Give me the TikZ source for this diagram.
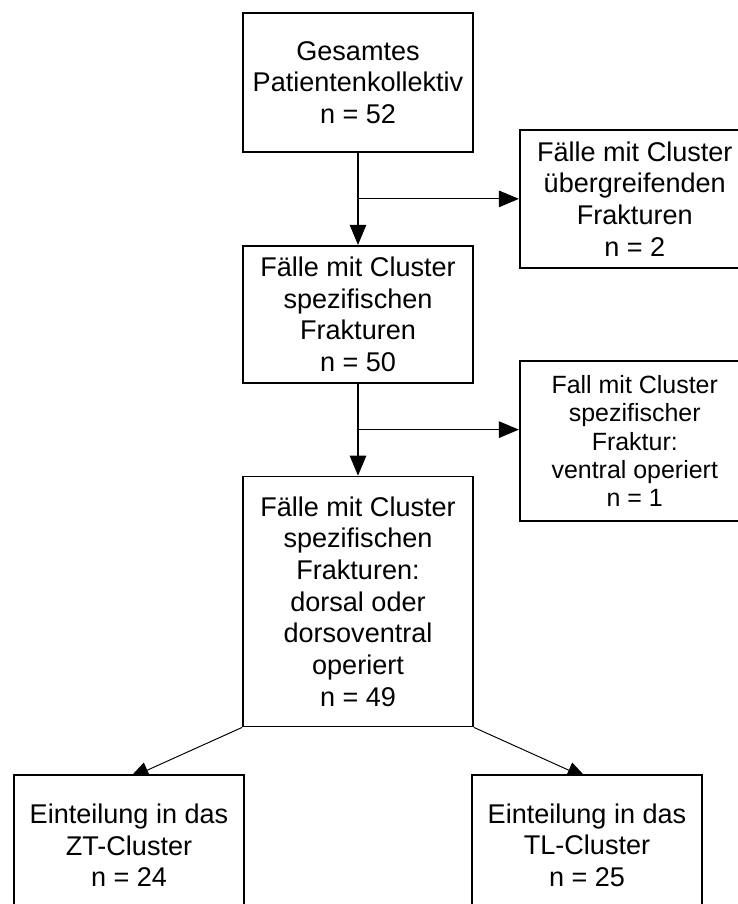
\documentclass[tikz,border=0pt]{standalone}
\usepackage{fontspec}
\setmainfont{Liberation Sans}
\usetikzlibrary{arrows.meta, positioning, backgrounds, calc}

\begin{document}
\begin{tikzpicture}[
            flowbox/.style={ rectangle, draw, line width=1pt, fill=white, minimum width=4.6cm, align=center, inner sep=0pt, font=\fontsize{15.4}{18}\selectfont },
            arrow/.style={ -{Triangle[length=0.4cm, width=0.33cm]}, line width=0.7pt }
        ]
            \useasboundingbox (0,0) rectangle (14.74,-18.08);

            % Main column
            \node (gesamt) [flowbox, minimum height=2.78cm] at (7.16,-1.65) {Gesamtes\\Patientenkollektiv\\n = 52};
            \node (spezifisch) [flowbox, minimum height=2.74cm, below=1.84cm of gesamt] {Fälle mit Cluster\\spezifischen\\Frakturen\\n = 50};
            \node (dorsal) [flowbox, minimum height=5cm, below=1.84cm of spezifisch] {Fälle mit Cluster\\spezifischen\\Frakturen:\\dorsal oder\\dorsoventral\\operiert\\n = 49};

            % Branch points
            \coordinate (split1) at ($(gesamt.south)!0.5!(spezifisch.north)$);
            \coordinate (split2) at ($(spezifisch.south)!0.5!(dorsal.north)$);
            \coordinate (split1east) at (gesamt.east |- split1);
            \coordinate (split2east) at (spezifisch.east |- split2);

            % Side nodes
            \node (uebergreifend) [flowbox, minimum height=2.76cm, right=0.9cm of split1east] {Fälle mit Cluster\\übergreifenden\\Frakturen\\n = 2};
            \node (ventral) [flowbox, minimum height=3.2cm, right=0.9cm of split2east, yshift=-0.23cm, font=\fontsize{14.2}{16.1}\selectfont] {Fall mit Cluster\\spezifischer\\Fraktur:\\ventral operiert\\n = 1};

            % Cluster nodes
            \node (ztcluster) [flowbox, minimum height=2.8cm, below=0.94cm of dorsal, xshift=-4.58cm] {Einteilung in das\\ZT-Cluster\\n = 24};
            \node (tlcluster) [flowbox, minimum height=2.8cm, below=0.94cm of dorsal, xshift=4.58cm] {Einteilung in das\\TL-Cluster\\n = 25};

            % Arrows
            \draw[arrow] (gesamt.south) -- (spezifisch.north);
            \draw[arrow] (split1) -- (uebergreifend.west |- split1);
            \draw[arrow] (spezifisch.south) -- (dorsal.north);
            \draw[arrow] (split2) -- (ventral.west |- split2);

            % Arrows to clusters (tips partly behind the boxes)
            \begin{scope}[on background layer]
                \draw[arrow, line width=0.55pt] (dorsal.south west) -- ([yshift=-0.08cm]ztcluster.north);
                \draw[arrow, line width=0.55pt] (dorsal.south east) -- ([yshift=-0.08cm]tlcluster.north);
            \end{scope}

        \end{tikzpicture}
\end{document}
